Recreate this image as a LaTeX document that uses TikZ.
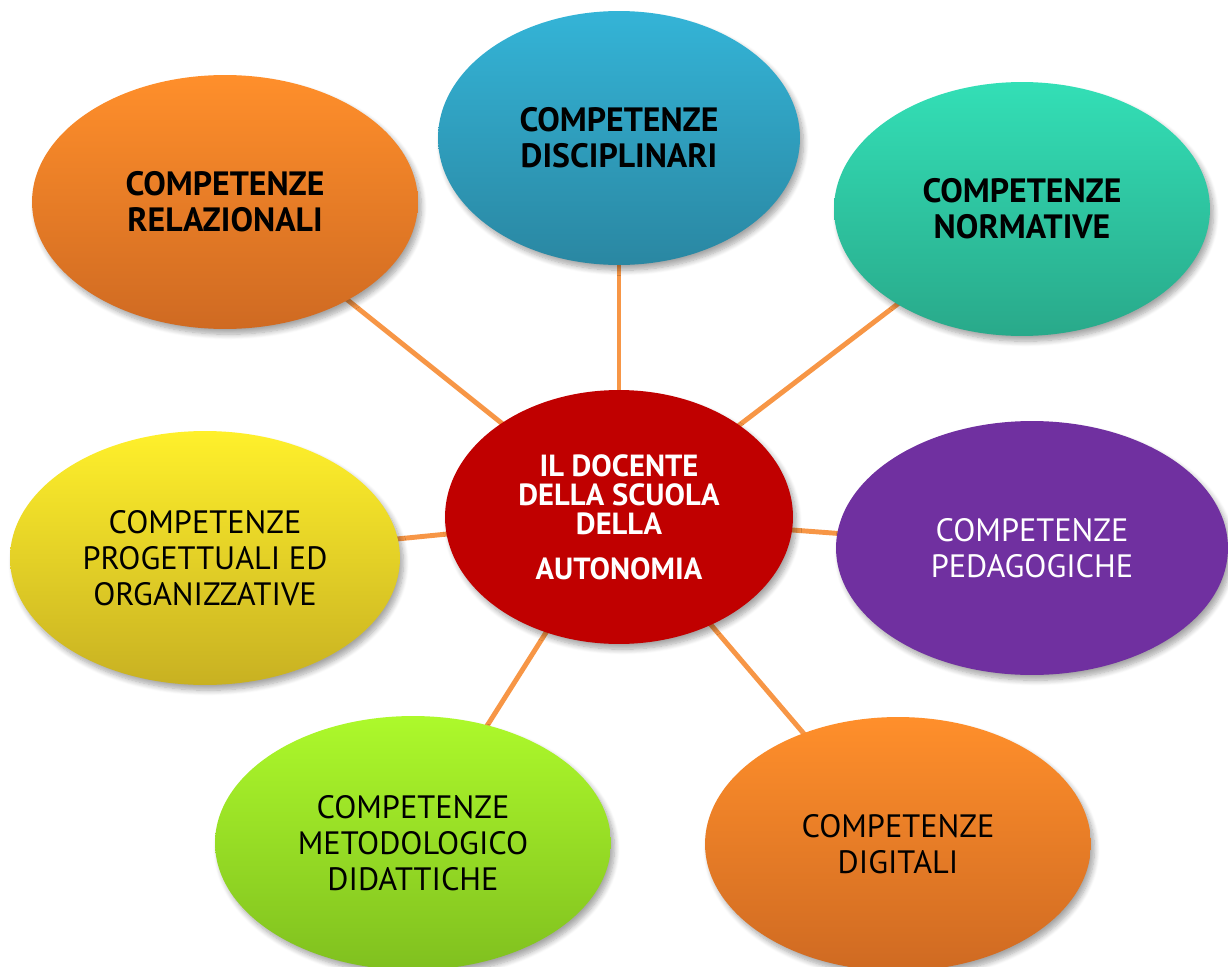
\documentclass[tikz,border=0pt]{standalone}
\usepackage{fontspec}
\setmainfont{PT Sans}
\usetikzlibrary{shapes.geometric,shadows.blur,backgrounds}

\definecolor{linkorange}{HTML}{F79646}
\definecolor{orTop}{HTML}{FF8F2B}\definecolor{orBot}{HTML}{CF6A22}
\definecolor{blTop}{HTML}{34B4D7}\definecolor{blBot}{HTML}{2A87A2}
\definecolor{tlTop}{HTML}{33DFB6}\definecolor{tlBot}{HTML}{29A98A}
\definecolor{ylTop}{HTML}{FFF02B}\definecolor{ylBot}{HTML}{C8B122}
\definecolor{grTop}{HTML}{ADF92B}\definecolor{grBot}{HTML}{80C01F}
\definecolor{hubred}{HTML}{C00000}
\definecolor{purple}{HTML}{7030A0}

\tikzset{
  bubble/.style={ellipse, inner sep=0pt, minimum height=5.08cm, align=center,
    font=\fontsize{18.4}{20.4}\selectfont,
    blur shadow={shadow xshift=2pt, shadow yshift=-3pt, shadow blur steps=8,
                 shadow blur radius=3pt, shadow opacity=35}},
  boldtext/.style={font=\bfseries\fontsize{19.2}{20.6}\selectfont},
  link/.style={draw=linkorange, line width=2.8pt}
}

\begin{document}
\begin{tikzpicture}[x=0.02cm,y=-0.02cm]
\useasboundingbox (0,0) rectangle (1228,967);

% central concept
\node[bubble, minimum width=6.96cm, fill=hubred, text=white,
      font=\bfseries\fontsize{17.4}{16.6}\selectfont] (hub) at (619,517)
  {IL DOCENTE\\DELLA SCUOLA\\DELLA\\[9pt]AUTONOMIA};

% surrounding competences
\node[bubble, boldtext, minimum width=7.72cm, top color=orTop, bottom color=orBot] (rel) at (225,202)
  {COMPETENZE\\RELAZIONALI};
\node[bubble, boldtext, minimum width=7.24cm, top color=blTop, bottom color=blBot] (dis) at (619,138)
  {COMPETENZE\\DISCIPLINARI};
\node[bubble, boldtext, minimum width=7.52cm, top color=tlTop, bottom color=tlBot] (nor) at (1022,209)
  {COMPETENZE\\NORMATIVE};
\node[bubble, minimum width=7.80cm, top color=ylTop, bottom color=ylBot] (pro) at (205,558)
  {COMPETENZE\\PROGETTUALI ED\\ORGANIZZATIVE};
\node[bubble, minimum width=7.84cm, fill=purple, text=white] (ped) at (1032,548)
  {COMPETENZE\\PEDAGOGICHE};
\node[bubble, minimum width=7.92cm, top color=grTop, bottom color=grBot] (met) at (413,843)
  {COMPETENZE\\METODOLOGICO\\DIDATTICHE};
\node[bubble, minimum width=7.72cm, top color=orTop, bottom color=orBot] (dig) at (898,844)
  {COMPETENZE\\DIGITALI};

% spokes behind the ellipses
\begin{pgfonlayer}{background}
  \foreach \n in {rel,dis,nor,pro,ped,met,dig}
    \draw[link] (hub.center) -- (\n.center);
\end{pgfonlayer}
\end{tikzpicture}
\end{document}
